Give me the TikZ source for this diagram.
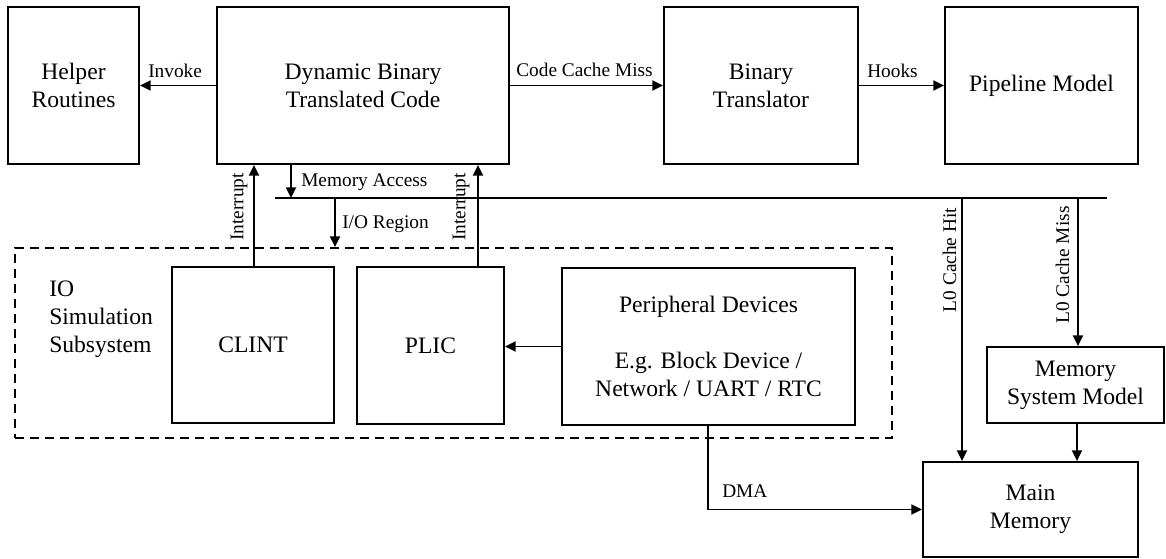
\documentclass[tikz,border=0pt]{standalone}
\usepackage{fontspec}
\setmainfont{Liberation Serif}
\usetikzlibrary{arrows.meta,calc}

\begin{document}
\begin{tikzpicture}[x=0.75pt,y=-0.75pt,
  box/.style={draw,line width=1.4pt,inner sep=0pt,align=center,
    font=\fontsize{17.7}{21.2}\selectfont},
  sized/.style 2 args={minimum width=#1*0.75pt,minimum height=#2*0.75pt},
  plain/.style={inner sep=0pt,align=left,font=\fontsize{17.7}{21.2}\selectfont},
  arr/.style={line width=1.4pt,-{Triangle[length=8pt,width=7.5pt]}},
  wire/.style={line width=1.4pt},
  lbl/.style={font=\fontsize{14.5}{17}\selectfont,inner sep=0pt},
  group/.style={draw,line width=1.4pt,dash pattern=on 6.75pt off 4.5pt,inner sep=0pt}]
\useasboundingbox (0,0) rectangle (1166,558);

% top row
\node[box,sized={131}{157}] (helper) at (73.5,85.5)   {Helper\\Routines};
\node[box,sized={292}{157}] (dbt)    at (363,85.5)    {Dynamic Binary\\Translated Code};
\node[box,sized={194}{157}] (bt)     at (761,85.5)    {Binary\\Translator};
\node[box,sized={193}{157}] (pipe)   at (1041.5,85.5) {Pipeline Model};

% IO simulation subsystem
\node[group,sized={877}{190}] (iosys) at (453.5,343) {};
\node[plain,anchor=west] (iolabel) at (49,319) {IO\\Simulation\\Subsystem};
\node[box,sized={162}{156}] (clint) at (253,345)   {CLINT};
\node[box,sized={147}{157}] (plic)  at (430.5,345.5) {PLIC};
\node[box,sized={293}{157}] (peri)  at (708.5,346.5)
  {Peripheral Devices\\[21.2pt]E.g. Block Device /\\Network / UART / RTC};

% memory side
\node[box,sized={177}{76}] (msm)     at (1075.5,385)  {Memory\\System Model};
\node[box,sized={215}{95}] (mainmem) at (1030.5,509.5) {Main\\Memory};

% bus ends and the x positions of the vertical links
\coordinate (busL) at (275,198);
\coordinate (busR) at (1107,198);
\coordinate (memx) at (291,198);
\coordinate (iox)  at (335,198);
\coordinate (irqA) at (254,0);
\coordinate (irqB) at (478,0);
\coordinate (hitx) at (962,198);
\coordinate (missx) at (1078,198);
\coordinate (msmx) at (1077,0);
\coordinate (dmax) at (708,0);

% horizontal flow along the top
\draw[arr] (dbt.west) -- (helper.east);
\draw[arr] (dbt.east) -- (bt.west);
\draw[arr] (bt.east) -- (pipe.west);

% memory bus
\draw[wire] (busL) -- (busR);
\draw[arr] (dbt.south -| memx) -- (memx);
\draw[arr] (iox) -- (iosys.north -| iox);

% interrupts
\draw[arr] (clint.north -| irqA) -- (dbt.south -| irqA);
\draw[arr] (plic.north -| irqB) -- (dbt.south -| irqB);

% devices
\draw[arr] (peri.west) -- (plic.east |- peri.west);
\draw[arr] (peri.south -| dmax) |- (mainmem.west);

% cache paths
\draw[arr] (hitx) -- (mainmem.north -| hitx);
\draw[arr] (missx) -- (msm.north -| missx);
\draw[arr] (msm.south -| msmx) -- (mainmem.north -| msmx);

% connector labels
\node[lbl,anchor=base west] (linvoke) at (148,77) {Invoke};
\node[lbl,anchor=base west] (lmiss)   at (516,76) {Code Cache Miss};
\node[lbl,anchor=base west] (lhooks)  at (867,77) {Hooks};
\node[lbl,anchor=base west] (lmem)    at (301,186) {Memory Access};
\node[lbl,anchor=base west] (lio)     at (342,228) {I/O Region};
\node[lbl,anchor=base west] (ldma)    at (722,497) {DMA};
\node[lbl,rotate=90] (lirqA) at (239,207) {Interrupt};
\node[lbl,rotate=90] (lirqB) at (461,207) {Interrupt};
\node[lbl,rotate=90] (lhit)  at (949.5,260) {L0 Cache Hit};
\node[lbl,rotate=90] (lmiss0) at (1062.5,265) {L0 Cache Miss};
\end{tikzpicture}
\end{document}
